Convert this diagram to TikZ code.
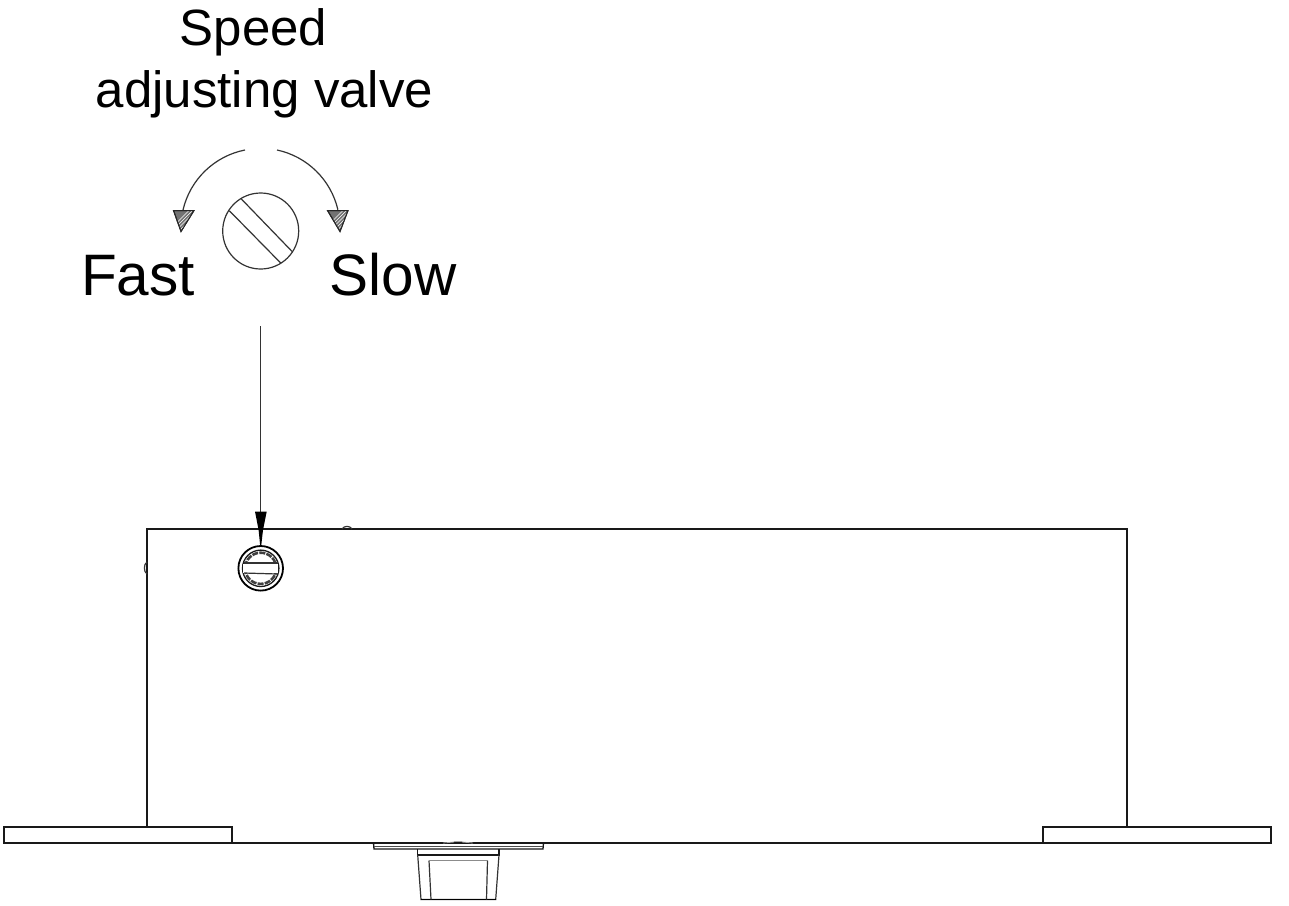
\documentclass[tikz,border=0pt]{standalone}
\usepackage{fontspec}
\setmainfont{Liberation Sans}
\tikzset{
  x=1pt,y=-1pt,
  ln/.style={draw=black!90,line width=1.3pt},
  thin ln/.style={draw=black!80,line width=1.2pt},
  lbl/.style={anchor=base,inner sep=0pt,text=black},
  small lbl/.style={lbl,font=\fontsize{51}{51}\selectfont},
  big lbl/.style={lbl,font=\fontsize{58.5}{58.5}\selectfont},
  hatch/.style={fill=black!55,draw=black!85,line width=1pt}
}
\begin{document}
\begin{tikzpicture}
\useasboundingbox (0,0) rectangle (1289,905);
\fill[white] (0,0) rectangle (1289,905);
% labels
\node[small lbl] (speed) at (253.5,45) {Speed};
\node[small lbl] (adj) at (264.5,107) {adjusting valve};
\node[big lbl] (fast) at (138,295) {Fast};
\node[big lbl] (slow) at (393,295) {Slow};
% detail circle
\coordinate (dc) at (260.7,231);
\draw[thin ln] (dc) circle[radius=38];
\draw[thin ln] (240.7,198.3) -- (292.3,251.7);
\draw[thin ln] (229.3,210.7) -- (281,263.3);
% rotation arcs (true circular arcs about (260.5,228), radius 79.5; y axis points down)
\coordinate (al) at (245,150);
\coordinate (ar) at (277,150);
\draw[thin ln] (al) arc[start angle=-101.2,end angle=-166.9,radius=79.5] coordinate (tl);
\draw[thin ln] (ar) arc[start angle=-78,end angle=-13.1,radius=79.5] coordinate (tr);
\foreach \px/\tx in {173.5/181,327.5/340}{
  \begin{scope}
    \path[hatch] (\px,210.5) -- ++(20.5,0) -- (\tx,231.5) -- cycle;
    \clip (\px,210.5) -- ++(20.5,0) -- (\tx,231.5) -- cycle;
    \foreach \d in {0,3.5,...,35}{
      \draw[white,line width=0.6pt] (\px-6+\d,232) -- ++(22,-22);
    }
  \end{scope}
  \draw[hatch,fill=none] (\px,210.5) -- ++(20.5,0) -- (\tx,231.5) -- cycle;
}
% housing
\draw[ln] (147,827) -- (147,529) -- (1127,529) -- (1127,827);
\draw[ln] (232,843) -- (1043,843);
\draw[ln] (4,827) rectangle (232,843);
\draw[ln] (1043,827) rectangle (1271,843);
% small bumps
\draw[thin ln] (342,529) .. controls (344,525.5) and (350,525.5) .. (352,529);
\draw[thin ln] (147,562) .. controls (143.5,564) and (143.5,572) .. (147,574);
% valve
\coordinate (vc) at (260.7,568.3);
\draw[draw=black,line width=1.8pt] (vc) circle[radius=22.3];
\draw[ln] (vc) circle[radius=18.2];
\draw[draw=black!75,line width=2.6pt,dash pattern=on 6pt off 1.2pt] (vc) circle[radius=15.6];
\fill[white] (243,563.5) rectangle (278,573);
\draw[thin ln] (244,563) -- (277.5,563);
\draw[thin ln] (244,573) -- (277.5,574);
% leader arrow
\coordinate (lead) at (260.7,326);
\coordinate (lead2) at (260.7,512);
\draw[thin ln] (lead) -- (lead2);
\fill[black] (255,511.5) -- (266.7,511.5) -- (263,530) -- (261.2,546) -- (260.2,546) -- (258.6,530) -- cycle;
% plate beneath
\draw[ln] (373.5,843) -- (374,849) -- (543,849) -- (543.5,843);
\draw[draw=black!70,line width=1.5pt] (374,846.5) -- (543,846.5);
\draw[draw=black!35,line width=0.8pt] (443,843) -- (454,842) (462,842) -- (473,843) (454,841.5) -- (462,841.5);
% knob
\draw[ln] (417.7,849) -- (417.7,855) -- (499,855) -- (499,849);
\draw[thin ln] (417.7,855) -- (421,899.5) -- (495.7,899.5) -- (499,855);
\draw[draw=black,line width=1.6pt] (421,899.5) -- (495.7,899.5);
\draw[thin ln] (429,860.5) -- (431,899.5);
\draw[thin ln] (487.5,860.5) -- (486.5,899.5);
\draw[draw=black!45,line width=1.2pt] (429,860.5) -- (487.5,860.5);
\end{tikzpicture}
\end{document}
